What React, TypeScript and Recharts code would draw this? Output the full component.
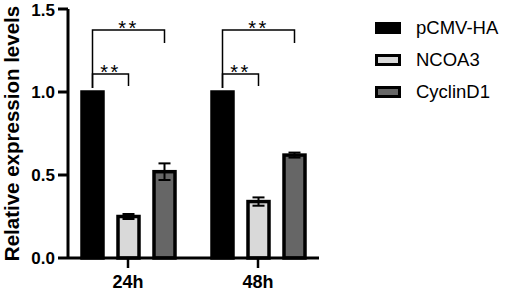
import React from 'react';
import { BarChart, Bar, XAxis, YAxis, ErrorBar, Legend } from 'recharts';

const categories = ['24h', '48h'];
const seriesNames = ['pCMV-HA', 'NCOA3', 'CyclinD1'];
const seriesColors = ['#000000', '#d9d9d9', '#666666'];
const pcmvHa = [1.0, 1.0];
const ncoa3 = [0.25, 0.34];
const ncoa3Sd = [0.015, 0.025];
const cyclinD1 = [0.52, 0.62];
const cyclinD1Sd = [0.05, 0.015];
const yTicks = [0, 0.5, 1.0, 1.5];

// significance brackets from pCMV-HA bar to series index (1 = NCOA3, 2 = CyclinD1)
const bracketTargets = [1, 2];
const bracketLevels = [1.108, 1.373];
const bracketLegDrop = [0.072, 0.078];
const bracketLabels = ['**', '**'];

const FONT = 'Arial, "Liberation Sans", sans-serif';
const BAR_SIZE = 21;
const BAR_GAP = 15;
const LEGEND_WIDTH = 135;

const data = categories.map((name, i) => ({
  x: i,
  name,
  pcmvHa: pcmvHa[i],
  ncoa3: ncoa3[i],
  ncoa3Sd: ncoa3Sd[i],
  cyclinD1: cyclinD1[i],
  cyclinD1Sd: cyclinD1Sd[i],
}));

const OutlinedBar = (props: any) => {
  const { x, y, width, height, fill } = props;
  if (!width || !height) return null;
  return <rect x={x} y={y} width={width} height={height} fill={fill} stroke="#000" strokeWidth={3.5} />;
};

const ControlBarWithBrackets = (props: any) => {
  const { x, y, width, height, payload } = props;
  const base = y + height;
  const py = (v: number) => base - (v / payload.pcmvHa) * height;
  const cx = x + width / 2;
  return (
    <g>
      <OutlinedBar {...props} />
      {bracketTargets.map((t, i) => {
        const tx = cx + t * (BAR_SIZE + BAR_GAP);
        const ly = py(bracketLevels[i]);
        return (
          <g key={i}>
            <polyline
              points={`${cx},${py(1.024)} ${cx},${ly} ${tx},${ly} ${tx},${py(bracketLevels[i] - bracketLegDrop[i])}`}
              fill="none"
              stroke="#000"
              strokeWidth={1.5}
            />
            <text
              x={(cx + tx) / 2}
              y={ly + 5}
              textAnchor="middle"
              fontSize={20}
              letterSpacing={2.5}
              fontFamily={FONT}
              fill="#000"
            >
              {bracketLabels[i]}
            </text>
          </g>
        );
      })}
    </g>
  );
};

const LegendContent = () => (
  <div style={{ fontFamily: FONT }}>
    {seriesNames.map((name, i) => (
      <div key={name} style={{ display: 'flex', alignItems: 'center', height: 32 }}>
        <div
          style={{
            width: 26,
            height: 12,
            boxSizing: 'border-box',
            border: '3px solid #000',
            background: seriesColors[i],
            marginRight: 15,
          }}
        />
        <span style={{ fontSize: 18.5, color: '#000' }}>{name}</span>
      </div>
    ))}
  </div>
);

export default function App() {
  return (
    <div style={{ position: 'fixed', left: 0, top: 0, width: 510, height: 292, background: '#fff' }}>
      <BarChart
        width={510}
        height={292}
        data={data}
        margin={{ top: 9, right: 191 - LEGEND_WIDTH, bottom: 0, left: 0 }}
        barSize={BAR_SIZE}
        barGap={BAR_GAP}
      >
        <XAxis
          type="number"
          dataKey="x"
          domain={[-60 / 130, 1 + 61 / 130]}
          allowDataOverflow
          ticks={[0, 1]}
          tickFormatter={(v: number) => categories[Math.round(v)] ?? ''}
          height={34}
          axisLine={{ stroke: '#000', strokeWidth: 3 }}
          tickLine={{ stroke: '#000', strokeWidth: 2.5 }}
          tickSize={10}
          tickMargin={7}
          tick={{ fill: '#000', fontSize: 18, fontWeight: 700, fontFamily: FONT }}
        />
        <YAxis
          width={68}
          domain={[0, 1.5]}
          ticks={yTicks}
          tickFormatter={(v: number) => v.toFixed(1)}
          axisLine={{ stroke: '#000', strokeWidth: 3 }}
          tickLine={{ stroke: '#000', strokeWidth: 3 }}
          tickSize={10}
          tickMargin={3}
          tick={{ fill: '#000', fontSize: 17, fontWeight: 700, fontFamily: FONT }}
          label={{
            content: (p: any) => {
              const vb = p.viewBox || {};
              const cy = (vb.y ?? 9) + (vb.height ?? 249) / 2;
              return (
                <text
                  transform={`translate(12, ${cy}) rotate(-90)`}
                  textAnchor="middle"
                  dy="0.35em"
                  fontSize={20.5}
                  fontWeight={700}
                  fontFamily={FONT}
                  fill="#000"
                >
                  Relative expression levels
                </text>
              );
            },
          }}
        />
        <Legend
          layout="vertical"
          verticalAlign="top"
          align="right"
          width={LEGEND_WIDTH}
          content={<LegendContent />}
          wrapperStyle={{ left: 375, top: 12, width: LEGEND_WIDTH, right: 'auto' }}
        />
        <Bar
          dataKey="pcmvHa"
          name={seriesNames[0]}
          fill={seriesColors[0]}
          isAnimationActive={false}
          shape={<ControlBarWithBrackets />}
        />
        <Bar
          dataKey="ncoa3"
          name={seriesNames[1]}
          fill={seriesColors[1]}
          isAnimationActive={false}
          shape={<OutlinedBar />}
        >
          <ErrorBar dataKey="ncoa3Sd" width={6} stroke="#000" strokeWidth={2} />
        </Bar>
        <Bar
          dataKey="cyclinD1"
          name={seriesNames[2]}
          fill={seriesColors[2]}
          isAnimationActive={false}
          shape={<OutlinedBar />}
        >
          <ErrorBar dataKey="cyclinD1Sd" width={6} stroke="#000" strokeWidth={2} />
        </Bar>
      </BarChart>
    </div>
  );
}
